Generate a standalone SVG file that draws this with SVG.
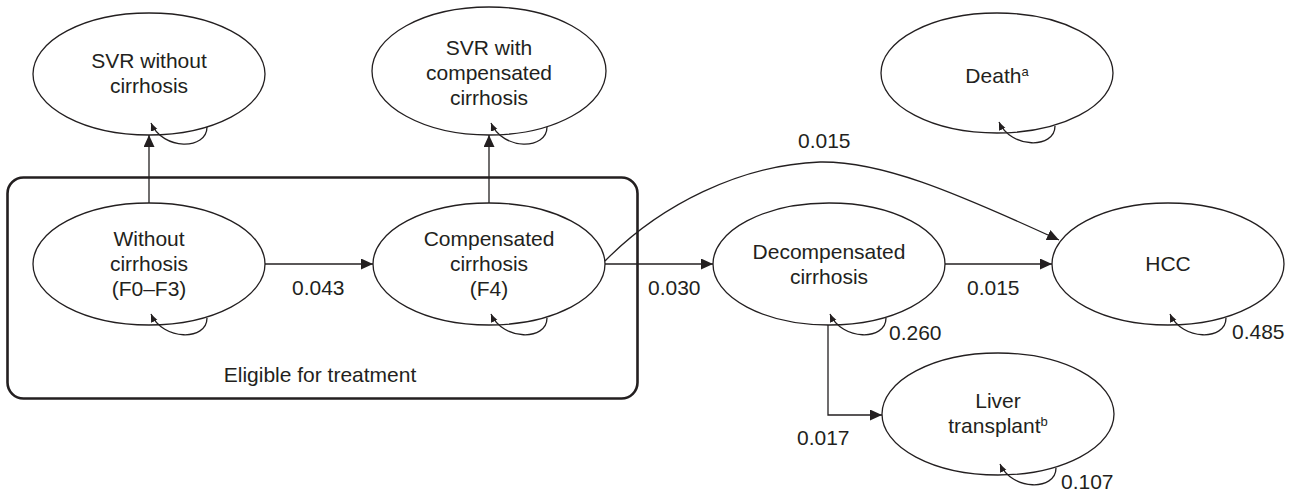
<svg xmlns="http://www.w3.org/2000/svg" width="1297" height="491" viewBox="0 0 1297 491">
<style>
.n{fill:#fff;stroke:#231f20;stroke-width:1.3}
.t{font-family:"Liberation Sans",Arial,sans-serif;font-size:21px;fill:#231f20;text-anchor:middle}
.l{font-family:"Liberation Sans",Arial,sans-serif;font-size:21px;fill:#231f20}
.e{fill:none;stroke:#231f20;stroke-width:1.3}
.sup{font-size:13px}
</style>
<defs>
<marker id="ah" markerUnits="userSpaceOnUse" markerWidth="13" markerHeight="12" refX="12" refY="5.5" orient="auto">
<path d="M0,0 L12,5.5 L0,11 z" fill="#231f20"/>
</marker>
<marker id="sh" markerUnits="userSpaceOnUse" markerWidth="9" markerHeight="8" refX="8" refY="3.5" orient="auto">
<path d="M0,0 L8,3.5 L0,7 z" fill="#231f20"/>
</marker>
</defs>
<rect id="eligible" x="7.5" y="177.5" width="630" height="221" rx="16" fill="none" stroke="#231f20" stroke-width="2.6"/>
<text class="t" x="320" y="382">Eligible for treatment</text>

<g id="svr-without">
<ellipse class="n" cx="149" cy="74" rx="116" ry="61"/>
<text class="t" x="149" y="68">SVR without</text>
<text class="t" x="149" y="93">cirrhosis</text>
</g>
<g id="svr-with">
<ellipse class="n" cx="489" cy="71" rx="117" ry="64"/>
<text class="t" x="489" y="55">SVR with</text>
<text class="t" x="489" y="80">compensated</text>
<text class="t" x="489" y="105">cirrhosis</text>
</g>
<g id="death">
<ellipse class="n" cx="997" cy="73" rx="116" ry="60"/>
<text class="t" x="997" y="83">Death<tspan class="sup" dy="-7">a</tspan></text>
</g>
<g id="without">
<ellipse class="n" cx="149" cy="264" rx="116" ry="61"/>
<text class="t" x="149" y="246">Without</text>
<text class="t" x="149" y="271">cirrhosis</text>
<text class="t" x="149" y="296">(F0–F3)</text>
</g>
<g id="compensated">
<ellipse class="n" cx="489" cy="264" rx="116" ry="61"/>
<text class="t" x="489" y="246">Compensated</text>
<text class="t" x="489" y="271">cirrhosis</text>
<text class="t" x="489" y="296">(F4)</text>
</g>
<g id="decompensated">
<ellipse class="n" cx="829" cy="264" rx="116" ry="61"/>
<text class="t" x="829" y="259">Decompensated</text>
<text class="t" x="829" y="284">cirrhosis</text>
</g>
<g id="hcc">
<ellipse class="n" cx="1168" cy="264" rx="116" ry="61"/>
<text class="t" x="1168" y="271">HCC</text>
</g>
<g id="liver">
<ellipse class="n" cx="998" cy="414" rx="116" ry="61"/>
<text class="t" x="998" y="408">Liver</text>
<text class="t" x="998" y="433">transplant<tspan class="sup" dy="-7">b</tspan></text>
</g>

<g id="connectors">
<path class="e" d="M149 203 V135" marker-end="url(#ah)"/>
<path class="e" d="M489 203 V135" marker-end="url(#ah)"/>
<path class="e" d="M265 264 H373" marker-end="url(#ah)"/>
<path class="e" d="M605 264 H713" marker-end="url(#ah)"/>
<path class="e" d="M945 264 H1052" marker-end="url(#ah)"/>
<path class="e" d="M828 325 V415 H882" marker-end="url(#ah)"/>
<path class="e" d="M605 261 C660 205 740 165 820 162 C880 161 950 190 1059 240" marker-end="url(#ah)"/>
<path class="e" d="M207 127 C207 150 163 151 151 123" marker-end="url(#sh)"/>
<path class="e" d="M547 127 C547 150 503 151 491 123" marker-end="url(#sh)"/>
<path class="e" d="M1055 126 C1055 149 1011 149 999 122" marker-end="url(#sh)"/>
<path class="e" d="M207 318 C207 341 163 341 151 314" marker-end="url(#sh)"/>
<path class="e" d="M547 318 C547 341 503 341 491 314" marker-end="url(#sh)"/>
<path class="e" d="M886 318 C886 341 842 341 830 314" marker-end="url(#sh)"/>
<path class="e" d="M1226 318 C1226 341 1182 341 1170 314" marker-end="url(#sh)"/>
<path class="e" d="M1056 468 C1056 491 1012 491 1000 464" marker-end="url(#sh)"/>
</g>
<g id="labels">
<text class="l" x="292" y="295">0.043</text>
<text class="l" x="648" y="295">0.030</text>
<text class="l" x="967" y="295">0.015</text>
<text class="l" x="798" y="148">0.015</text>
<text class="l" x="889" y="340">0.260</text>
<text class="l" x="1232" y="339">0.485</text>
<text class="l" x="797" y="445">0.017</text>
<text class="l" x="1061" y="489">0.107</text>
</g>
</svg>
